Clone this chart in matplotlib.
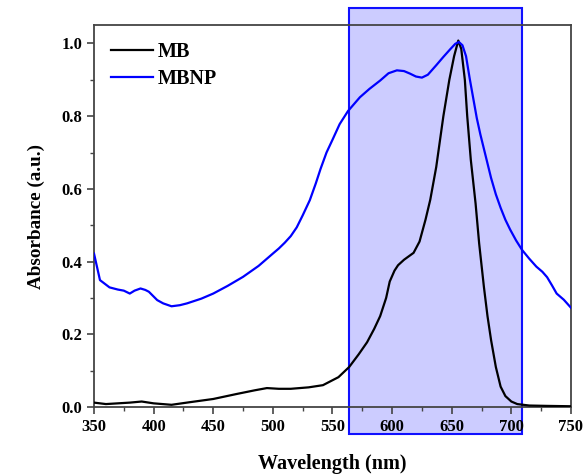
import numpy as np
import matplotlib
matplotlib.use("Agg")
import matplotlib.pyplot as plt
from matplotlib.patches import Rectangle
from matplotlib.ticker import MultipleLocator

plt.rcParams['font.family'] = ['Liberation Serif', 'DejaVu Serif']
plt.rcParams['font.weight'] = 'bold'

# MB spectrum (black)
mb_nm = [350, 360, 370, 380, 390, 400, 415, 430, 450, 470, 485, 495, 505, 515,
         530, 542, 555, 564, 572, 579, 585, 590, 595, 598, 602, 605, 610, 618,
         623, 628, 632, 637, 643, 648, 652, 655.5, 658, 661, 663, 666, 670,
         673, 677, 680, 683, 687, 691, 695, 700, 705, 715, 730, 750]
mb_abs = [0.012, 0.008, 0.010, 0.012, 0.015, 0.010, 0.006, 0.013, 0.022, 0.036,
          0.046, 0.052, 0.050, 0.050, 0.054, 0.060, 0.082, 0.110, 0.145, 0.178,
          0.215, 0.250, 0.300, 0.345, 0.375, 0.390, 0.405, 0.424, 0.455, 0.515,
          0.570, 0.660, 0.800, 0.900, 0.965, 1.008, 0.985, 0.900, 0.800, 0.680,
          0.560, 0.450, 0.330, 0.250, 0.184, 0.110, 0.056, 0.030, 0.015, 0.008,
          0.004, 0.003, 0.002]

# MBNP spectrum (blue)
np_nm = [350, 355, 363, 370, 375, 380, 384, 389, 393, 396, 403, 408, 415, 422,
         428, 440, 450, 462, 475, 488, 500, 505, 510, 515, 520, 525, 531, 536,
         540, 545, 550, 556, 563, 573, 581, 590, 597, 604, 610, 615, 620, 625,
         630, 637, 643, 649, 653, 656, 659, 662, 665, 668, 671, 674, 677, 680,
         683, 687, 691, 695, 699, 704, 709, 715, 721, 726, 730, 734, 738, 744,
         750]
np_abs = [0.422, 0.349, 0.329, 0.323, 0.320, 0.312, 0.320, 0.326, 0.322, 0.317,
          0.294, 0.285, 0.277, 0.280, 0.285, 0.298, 0.312, 0.333, 0.358, 0.388,
          0.422, 0.436, 0.452, 0.470, 0.494, 0.527, 0.569, 0.615, 0.655, 0.700,
          0.735, 0.778, 0.814, 0.852, 0.875, 0.898, 0.918, 0.926, 0.924, 0.917,
          0.909, 0.906, 0.914, 0.940, 0.963, 0.985, 0.999, 1.004, 0.995, 0.965,
          0.905, 0.850, 0.795, 0.750, 0.710, 0.670, 0.630, 0.585, 0.548, 0.515,
          0.488, 0.458, 0.432, 0.408, 0.386, 0.372, 0.357, 0.335, 0.312, 0.295,
          0.273]

# highlighted band (nm)
band_lo, band_hi = 564, 709

fig = plt.figure(figsize=(5.85, 4.75), dpi=100)
ax = fig.add_axes([0.1607, 0.1432, 0.8153, 0.8036])

ax.add_patch(Rectangle((band_lo, -0.074), band_hi - band_lo, 1.171,
                       facecolor=(0.0, 0.0, 1.0, 0.2), edgecolor='#1010ff',
                       linewidth=1.5, clip_on=False, zorder=1))

ax.plot(mb_nm, mb_abs, color='black', lw=1.6, label='MB', zorder=3)
ax.plot(np_nm, np_abs, color='#0000ff', lw=1.6, label='MBNP', zorder=3)

ax.set_xlim(350, 750)
ax.set_ylim(0, 1.05)
ax.xaxis.set_major_locator(MultipleLocator(50))
ax.xaxis.set_minor_locator(MultipleLocator(25))
ax.yaxis.set_major_locator(MultipleLocator(0.2))
ax.yaxis.set_minor_locator(MultipleLocator(0.1))
ax.yaxis.set_major_formatter(matplotlib.ticker.FormatStrFormatter('%.1f'))

for s in ax.spines.values():
    s.set_color('#444444')
    s.set_linewidth(1.3)
ax.tick_params(which='major', direction='out', length=5, width=1.2,
               color='#444444', labelsize=12)
ax.tick_params(which='minor', direction='out', length=3, width=1.0,
               color='#444444')
for t in ax.get_xticklabels() + ax.get_yticklabels():
    t.set_fontweight('bold')

ax.set_xlabel('Wavelength (nm)', fontsize=14.5, fontweight='bold', labelpad=14)
ax.set_ylabel('Absorbance (a.u.)', fontsize=13.8, fontweight='bold', labelpad=12)

leg = ax.legend(loc='upper left', frameon=False, fontsize=14.5,
                handlelength=2.1, handletextpad=0.2, labelspacing=0.35,
                borderaxespad=0.45)
for t in leg.get_texts():
    t.set_fontweight('bold')

fig.savefig('out.png', dpi=100)
